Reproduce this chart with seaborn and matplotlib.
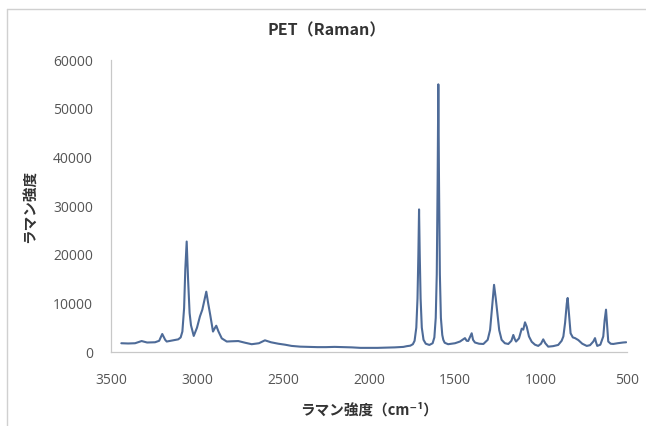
import numpy as np
import pandas as pd
import matplotlib
matplotlib.use("Agg")
import matplotlib.pyplot as plt
import seaborn as sns
from matplotlib.lines import Line2D

# ---- data ----
wavenumber = [
    3440, 3400, 3360, 3322, 3290, 3244, 3220, 3202, 3185, 3176, 3140, 3109, 3095, 3085,
    3075, 3068, 3060, 3052, 3043, 3035, 3019, 3000, 2983, 2969, 2955, 2946, 2935, 2923,
    2907, 2895, 2888, 2875, 2856, 2827, 2800, 2760, 2720, 2682, 2640, 2605, 2570, 2527,
    2488, 2450, 2400, 2350, 2300, 2250, 2200, 2150, 2100, 2050, 2000, 1950, 1900, 1850,
    1800, 1780, 1760, 1745, 1735, 1725, 1718, 1713, 1709, 1705, 1700, 1693, 1683, 1670,
    1649, 1630, 1620, 1612, 1606, 1601, 1597, 1593, 1588, 1582, 1574, 1568, 1560, 1540,
    1529, 1500, 1471, 1442, 1432, 1423, 1403, 1395, 1384, 1360, 1335, 1310, 1296, 1285,
    1273, 1263, 1254, 1243, 1229, 1210, 1190, 1172, 1161, 1152, 1145, 1128, 1112, 1103,
    1093, 1083, 1070, 1054, 1035, 1016, 1000, 987, 975, 958, 930, 900, 880, 870, 860,
    850, 845, 838, 828, 815, 802, 783, 760, 734, 715, 696, 686, 680, 673, 655, 645, 638,
    630, 622, 615, 609, 595, 580, 555, 523, 505,
]
intensity = [
    1800, 1750, 1800, 2250, 1950, 2000, 2300, 3700, 2500, 2150, 2400, 2600, 3000, 4200,
    9000, 17000, 22700, 15000, 8000, 5500, 3300, 5000, 7300, 8700, 11000, 12400, 10000, 7600,
    4200, 5000, 5400, 4200, 2800, 2150, 2200, 2250, 1900, 1600, 1800, 2400, 2000, 1700,
    1500, 1250, 1100, 1050, 1000, 1000, 1050, 1000, 950, 850, 850, 850, 900, 950,
    1050, 1200, 1300, 1600, 2300, 5000, 11000, 20000, 29300, 20000, 11000, 5000, 2500, 1700,
    1450, 1800, 3000, 7000, 16000, 35000, 55000, 35000, 16000, 7000, 3500, 2500, 1900, 1600,
    1650, 1800, 2150, 2850, 2300, 2270, 3850, 2500, 1950, 1700, 1650, 2500, 4550, 9000,
    13800, 11000, 8000, 4500, 2500, 1800, 1650, 2300, 3500, 2600, 2150, 2800, 4800, 4600,
    6100, 5200, 3200, 2100, 1500, 1250, 1700, 2600, 1800, 1100, 1200, 1450, 2300, 3200, 6000,
    10000, 11100, 8000, 3850, 3000, 2850, 2450, 1700, 1250, 1400, 2150, 2850, 2000, 1250, 1500, 2500, 3200,
    6500, 8700, 5000, 2150, 1700, 1650, 1800, 1950, 2000,
]
x_ticks = [3500, 3000, 2500, 2000, 1500, 1000, 500]
y_ticks = [0, 10000, 20000, 30000, 40000, 50000, 60000]
title_text = "PET（Raman）"
x_label = "ラマン強度（cm⁻¹）"
y_label = "ラマン強度"

df = pd.DataFrame({"wn": wavenumber, "I": intensity})

sns.set_style("white")
plt.rcParams["font.family"] = ["Noto Sans CJK JP", "DejaVu Sans"]

W, H = 646, 426
fig = plt.figure(figsize=(W / 100, H / 100), dpi=100)
ax = fig.add_axes([111 / W, 1 - 352 / H, (627 - 111) / W, (352 - 60) / H])

sns.lineplot(data=df, x="wn", y="I", ax=ax, sort=False, estimator=None,
             color="#4E6B98", linewidth=1.5)

ax.set_xlim(3500, 500)
ax.set_ylim(0, 60000)
ax.set_xticks(x_ticks)
ax.set_yticks(y_ticks)
ax.set_xticklabels([str(v) for v in x_ticks])
ax.set_yticklabels([str(v) for v in y_ticks])
ax.set_xlabel("")
ax.set_ylabel("")

for s in ["top", "right"]:
    ax.spines[s].set_visible(False)
for s in ["left", "bottom"]:
    ax.spines[s].set_color("#C8C8C8")
    ax.spines[s].set_linewidth(0.9)

ax.tick_params(axis="both", direction="out", length=4, width=0.8, color="#C8C8C8",
               labelcolor="#555555", labelsize=10)
ax.tick_params(axis="x", pad=11)
ax.tick_params(axis="y", pad=9)
for lab in ax.get_xticklabels() + ax.get_yticklabels():
    lab.set_family(["Open Sans", "DejaVu Sans"])

fig.text(327 / W, 1 - 30 / H, title_text, ha="center", va="center",
         fontsize=11.5, fontweight="bold", color="#333333")
fig.text(369 / W, 1 - 410 / H, x_label, ha="center", va="center",
         fontsize=10.5, fontweight="bold", color="#333333")
fig.text(30 / W, 1 - 206 / H, y_label, ha="center", va="center", rotation=90,
         fontsize=10.5, fontweight="bold", color="#333333")

# chart-area border (top and left visible in the reference crop)
fig.add_artist(Line2D([7 / W, 1.0], [1 - 9 / H, 1 - 9 / H], transform=fig.transFigure,
                      color="#D0D0D0", linewidth=1.0))
fig.add_artist(Line2D([7 / W, 7 / W], [0.0, 1 - 9 / H], transform=fig.transFigure,
                      color="#D0D0D0", linewidth=1.0))

fig.savefig("out.png", dpi=100, facecolor="white")
